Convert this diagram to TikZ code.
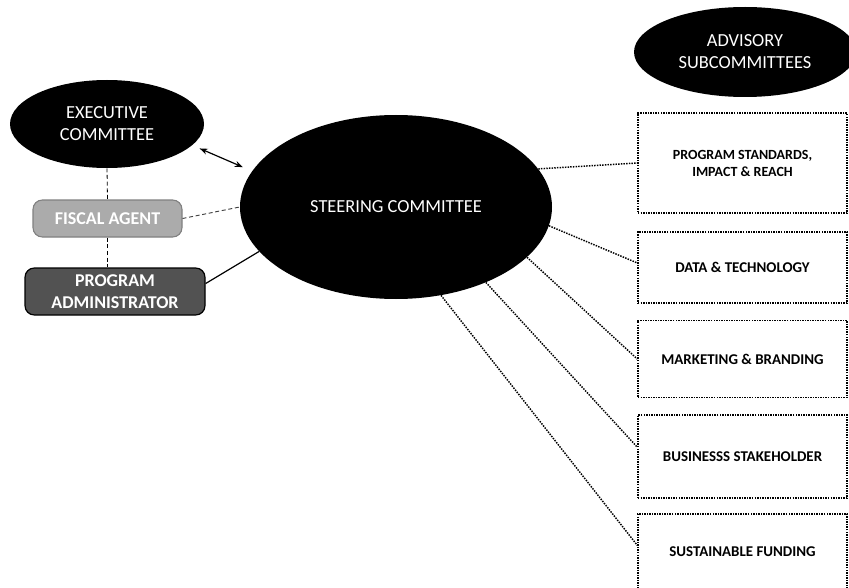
\documentclass[tikz,border=0pt]{standalone}
\usepackage{fontspec}
\setmainfont{Carlito}
\usetikzlibrary{shapes.geometric,arrows.meta}

\begin{document}
\begin{tikzpicture}[x=0.75pt,y=-0.75pt,
    bulle/.style={ellipse,fill=black,text=white,inner sep=0pt,align=center,
      font=\fontsize{13.8}{16.5}\selectfont},
    cadre/.style={rounded corners=7pt,inner sep=0pt,align=center,text=white,
      font=\bfseries\fontsize{13.5}{16}\selectfont},
    souscom/.style={draw,line width=1.1pt,dash pattern=on 1.1pt off 0.8pt,
      minimum width=156.75pt,inner sep=0pt,align=center,
      font=\bfseries\fontsize{11.2}{12.75}\selectfont},
    pointille/.style={line width=1.1pt,dash pattern=on 1.1pt off 0.9pt}]
  \useasboundingbox (0,0) rectangle (849,588);

  % gauche
  \node[bulle,minimum width=145.5pt,minimum height=66pt] (exec) at (107,124)
    {EXECUTIVE\\COMMITTEE};
  \node[cadre,fill=black!33,draw=black!50,line width=0.8pt,
    minimum width=111.75pt,minimum height=27.75pt] (fiscal) at (107.5,218.5)
    {FISCAL AGENT};
  \node[cadre,fill=black!68,draw=black,line width=0.9pt,
    minimum width=135pt,minimum height=35.25pt] (admin) at (115,291.5)
    {PROGRAM\\ADMINISTRATOR};

  \draw[densely dashed,line width=0.6pt] (exec.south) -- (fiscal.north);
  \draw[densely dashed,line width=0.6pt] (fiscal.south) -- (fiscal.south |- admin.north);

  % centre
  \node[bulle,minimum width=234pt,minimum height=138pt] (steer) at (396,207)
    {STEERING COMMITTEE};

  \draw[{Stealth[length=6pt]}-{Stealth[length=6pt]},line width=0.9pt,
    shorten <=6pt,shorten >=7.5pt] (exec.-14) -- (steer.166);
  \draw[densely dashed,line width=0.7pt,black!75] (fiscal.east) -- (steer.west);
  \draw[line width=0.9pt] (admin.5) -- (steer.198);

  % droite
  \node[bulle,minimum width=166.5pt,minimum height=67.5pt] (advisory) at (745,52)
    {ADVISORY\\SUBCOMMITTEES};

  \node[souscom,minimum height=75pt,font=\bfseries\fontsize{10.5}{12.75}\selectfont]
    (sub1) at (742.5,163) {PROGRAM STANDARDS,\\IMPACT \& REACH};
  \node[souscom,minimum height=53.25pt] (sub2) at (742.5,267.5)
    {DATA \& TECHNOLOGY};
  \node[souscom,minimum height=57.75pt] (sub3) at (742.5,359)
    {MARKETING \& BRANDING};
  \node[souscom,minimum height=62.25pt] (sub4) at (742.5,456.5)
    {BUSINESSS STAKEHOLDER};
  \node[souscom,minimum height=57pt] (sub5) at (742.5,552)
    {SUSTAINABLE FUNDING};

  \draw[pointille] (steer.15) -- (sub1.west);
  \draw[pointille] (steer.-7) -- ([yshift=3.4pt]sub2.west);
  \draw[pointille] (steer.-21) -- (sub3.west);
  \draw[pointille] (steer.-40) -- ([yshift=7pt]sub4.west);
  \draw[pointille] (steer.-63) -- ([yshift=5pt]sub5.west);
\end{tikzpicture}
\end{document}
